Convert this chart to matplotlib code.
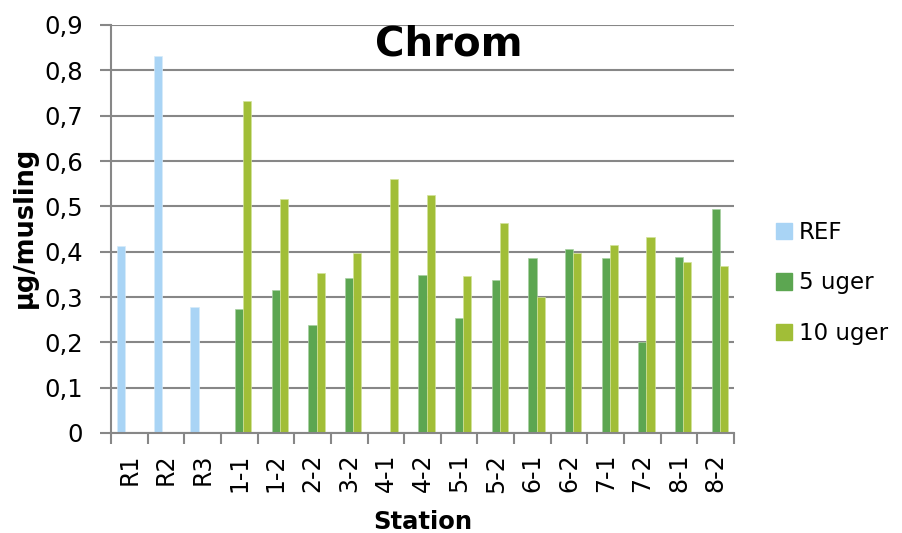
import numpy as np
import matplotlib
matplotlib.use("Agg")
import matplotlib.pyplot as plt
from matplotlib.patches import Patch

stations = ["R1", "R2", "R3", "1-1", "1-2", "2-2", "3-2", "4-1", "4-2",
            "5-1", "5-2", "6-1", "6-2", "7-1", "7-2", "8-1", "8-2"]
nan = np.nan
ref = [0.413, 0.831, 0.277, nan, nan, nan, nan, nan, nan,
       nan, nan, nan, nan, nan, nan, nan, nan]
uger5 = [nan, nan, nan, 0.273, 0.315, 0.238, 0.343, nan, 0.349,
         0.254, 0.338, 0.385, 0.405, 0.385, 0.200, 0.389, 0.494]
uger10 = [nan, nan, nan, 0.732, 0.517, 0.354, 0.396, 0.560, 0.524,
          0.346, 0.463, 0.301, 0.398, 0.414, 0.432, 0.377, 0.369]
yticks = [0, 0.1, 0.2, 0.3, 0.4, 0.5, 0.6, 0.7, 0.8, 0.9]
ytick_labels = ["0", "0,1", "0,2", "0,3", "0,4", "0,5", "0,6", "0,7", "0,8", "0,9"]

c_ref = "#A9D4F5"
c_5 = "#5CA651"
c_10 = "#A1BE37"
grid_c = "#878787"

plt.rcParams['font.family'] = ['DejaVu Sans']

fig = plt.figure(figsize=(9.03, 5.33), dpi=100)
ax = fig.add_axes([111/903, 1-433/533, 623/903, 408/533])

x = np.arange(len(stations))
w = 1/4.5
ax.bar(x - w, ref, w, color=c_ref, edgecolor="#d6ebfa", linewidth=0.5)
ax.bar(x, uger5, w, color=c_5, edgecolor="#a8d0a2", linewidth=0.5)
ax.bar(x + w, uger10, w, color=c_10, edgecolor="#d3e39a", linewidth=0.5)

ax.set_xlim(-0.5, len(stations) - 0.5)
ax.set_ylim(0, 0.9)
ax.set_yticks(yticks)
ax.set_yticklabels(ytick_labels, fontsize=17.5)
ax.yaxis.grid(True, color=grid_c, linewidth=1.5)
ax.set_axisbelow(True)

ax.set_xticks(x)
ax.set_xticklabels(stations, rotation=90, fontsize=17)
ax.set_xticks(np.arange(len(stations) + 1) - 0.5, minor=True)
ax.tick_params(axis='x', which='major', length=0, pad=15)
ax.tick_params(axis='x', which='minor', length=8, width=1.5, color=grid_c, direction='out')
ax.tick_params(axis='y', length=8, width=1.5, color=grid_c, direction='out', pad=12)

for s in ["top", "right"]:
    ax.spines[s].set_visible(False)
for s in ["left", "bottom"]:
    ax.spines[s].set_color(grid_c)
    ax.spines[s].set_linewidth(1.5)

fig.text(25/903, 1-227/533, "µg/musling", rotation=90, ha='center', va='center',
         fontsize=18.5, fontweight='bold')
fig.text(423/903, 1-522/533, "Station", ha='center', va='center',
         fontsize=17.5, fontweight='bold')
fig.text(449/903, 1-45/533, "Chrom", ha='center', va='center', fontsize=29, fontweight='bold')

handles = [Patch(color=c_ref), Patch(color=c_5), Patch(color=c_10)]
fig.legend(handles, ["REF", "5 uger", "10 uger"], loc='center left',
           bbox_to_anchor=(776/903, 1-283/533), frameon=False, fontsize=16.5,
           borderpad=0, borderaxespad=0,
           handlelength=0.7, handleheight=0.7, handletextpad=0.3, labelspacing=1.2)

fig.savefig("out.png", dpi=100)
